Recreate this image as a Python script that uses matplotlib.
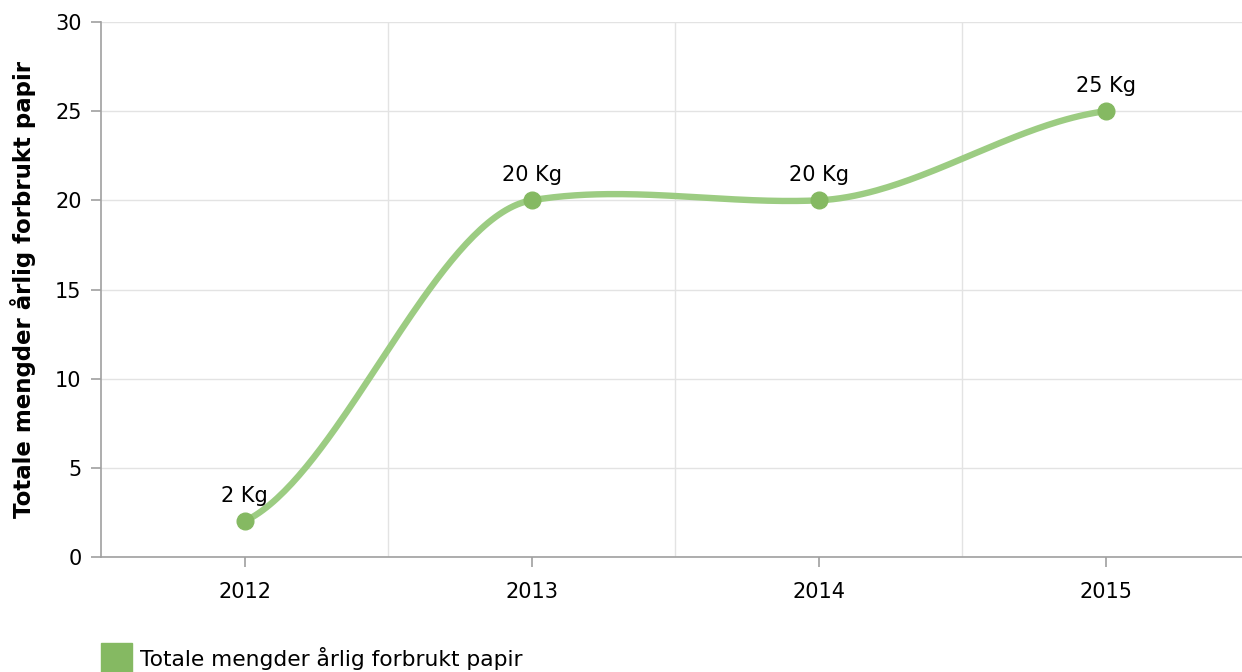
import matplotlib.pyplot as plt
from matplotlib.patches import Rectangle
import numpy as np

# données
annees = ['2012', '2013', '2014', '2015']
papir_kg = [2, 20, 20, 25]
etiquettes = ['2 Kg', '20 Kg', '20 Kg', '25 Kg']
serie = 'Totale mengder årlig forbrukt papir'
titre_y = 'Totale mengder årlig forbrukt papir'

couleur_ligne = '#9ccc82'
couleur_point = '#85b962'
gris_axe = '#a0a0a0'
gris_grille = '#e3e3e3'
taille = 15


def spline_lisse(xs, ys, c=0.3, n=80):
    # spline d'Hermite cardinale à faible tension
    xs = np.asarray(xs, float)
    ys = np.asarray(ys, float)
    k = len(xs)
    m = np.zeros(k)
    for i in range(1, k - 1):
        m[i] = c * (ys[i + 1] - ys[i - 1]) / (xs[i + 1] - xs[i - 1])
    m[0] = ((ys[1] - ys[0]) / (xs[1] - xs[0]) - m[1]) / 2
    m[-1] = ((ys[-1] - ys[-2]) / (xs[-1] - xs[-2]) - m[-2]) / 2
    t = np.linspace(0, 1, n)
    h00 = 2 * t ** 3 - 3 * t ** 2 + 1
    h10 = t ** 3 - 2 * t ** 2 + t
    h01 = -2 * t ** 3 + 3 * t ** 2
    h11 = t ** 3 - t ** 2
    X, Y = [], []
    for i in range(k - 1):
        h = xs[i + 1] - xs[i]
        X.extend(xs[i] + t * h)
        Y.extend(h00 * ys[i] + h10 * h * m[i] + h01 * ys[i + 1] + h11 * h * m[i + 1])
    return np.array(X), np.array(Y)


x = np.arange(len(annees))
cx, cy = spline_lisse(x, papir_kg)

fig = plt.figure(figsize=(12.42, 6.72), dpi=100)
ax = fig.add_axes([101 / 1242, 1 - 557 / 672, 1 - 101 / 1242, 535 / 672])

ax.plot(cx, cy, color=couleur_ligne, lw=4.6, solid_capstyle='round', zorder=3)
ax.plot(x, papir_kg, 'o', color=couleur_point, ms=12, zorder=4)
for xi, yi, lab in zip(x, papir_kg, etiquettes):
    ax.annotate(lab, (xi, yi), xytext=(0, 14), textcoords='offset points',
                ha='center', va='baseline', fontsize=taille, color='black')

ax.set_xlim(-0.5, 3.475)
ax.set_ylim(0, 30)
ax.set_yticks(range(0, 31, 5))
ax.set_xticks(x)
ax.set_xticklabels(annees)
ax.set_xticks(x[:-1] + 0.5, minor=True)

ax.grid(axis='y', color=gris_grille, lw=1)
ax.grid(axis='x', which='minor', color=gris_grille, lw=1)
ax.set_axisbelow(True)

for s in ['top', 'right']:
    ax.spines[s].set_visible(False)
for s in ['left', 'bottom']:
    ax.spines[s].set_color(gris_axe)
    ax.spines[s].set_linewidth(1.2)

ax.tick_params(axis='both', which='major', length=7, color=gris_axe,
               labelsize=taille, width=1.2)
ax.tick_params(axis='x', which='major', pad=11)
ax.tick_params(axis='y', pad=7)
ax.tick_params(axis='x', which='minor', length=0)

ax.set_ylabel(titre_y, fontsize=16.5, fontweight='bold')
ax.yaxis.set_label_coords(-0.057, 0.5)

# légende
fig.patches.append(Rectangle((101 / 1242, 0), 31 / 1242, 29 / 672,
                             transform=fig.transFigure, color=couleur_point))
fig.text(140 / 1242, 1 - 659 / 672, serie, fontsize=15.7, va='center', ha='left')

fig.savefig('out.png', dpi=100)
